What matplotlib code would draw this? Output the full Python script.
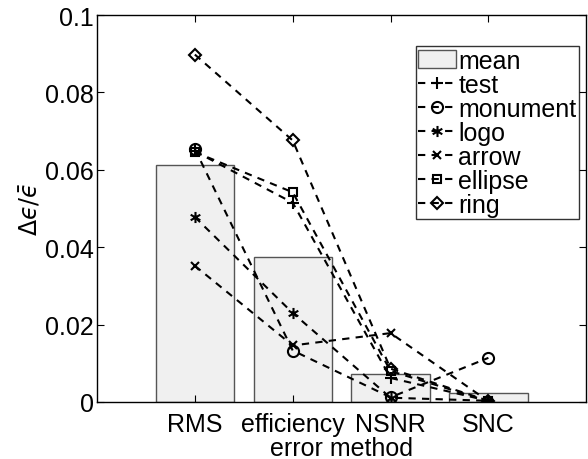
import matplotlib.pyplot as plt
import numpy as np
from matplotlib.path import Path

plt.rcParams['font.family'] = ['Liberation Sans', 'DejaVu Sans']
plt.rcParams['mathtext.fontset'] = 'dejavusans'

methods = ['RMS', 'efficiency', 'NSNR', 'SNC']
mean_vals = [0.0613, 0.0374, 0.0071, 0.0023]

series_names = ['test', 'monument', 'logo', 'arrow', 'ellipse', 'ring']
test = [0.0648, 0.0515, 0.0062, 0.0003]
monument = [0.0654, 0.0133, 0.0012, 0.0114]
logo = [0.0478, 0.0230, 0.0011, 0.0003]
arrow = [0.0352, 0.0146, 0.0178, 0.0002]
ellipse = [0.0646, 0.0542, 0.0080, 0.0002]
ring = [0.0898, 0.0676, 0.0086, 0.0003]
series_vals = [test, monument, logo, arrow, ellipse, ring]

# MATLAB style asterisk: three crossing strokes
ast_verts = []
ast_codes = []
for ang in [90, 30, -30]:
    a = np.deg2rad(ang)
    ast_verts += [(-np.cos(a), -np.sin(a)), (np.cos(a), np.sin(a))]
    ast_codes += [Path.MOVETO, Path.LINETO]
asterisk = Path(ast_verts, ast_codes)

markers = ['+', 'o', asterisk, 'x', 's', 'D']
msizes = [8, 8, 8, 6, 6, 6]

fig = plt.figure(figsize=(5.88, 4.6), dpi=100)
ax = fig.add_axes([0.165, 0.124, 0.832, 0.841])

x = np.arange(1, len(methods) + 1)
ax.bar(x, mean_vals, width=0.8, color='#f0f0f0', edgecolor='#555555',
       linewidth=1, label='mean', zorder=1)

for name, vals, m, ms in zip(series_names, series_vals, markers, msizes):
    ax.plot(x, vals, linestyle=(0, (3.5, 3)), color='black', linewidth=1.5,
            marker=m, markersize=ms, markerfacecolor='none',
            markeredgecolor='black', markeredgewidth=1.5, label=name, zorder=3)

ax.set_xlim(0, 5)
ax.set_ylim(0, 0.1)
ax.set_xticks(x)
ax.set_xticklabels(methods)
ax.set_yticks([0, 0.02, 0.04, 0.06, 0.08, 0.1])
ax.set_yticklabels(['0', '0.02', '0.04', '0.06', '0.08', '0.1'])
ax.tick_params(direction='in', top=True, right=True, labelsize=18,
               length=5, width=0.8, pad=2)
ax.tick_params(axis='x', pad=7)
ax.set_xlabel('error method', fontsize=18, labelpad=0)
ax.set_ylabel('$\\Delta\u03f5/\\bar{\u03f5}$', fontsize=17, labelpad=2)
for s in ax.spines.values():
    s.set_linewidth(1)

# mean first in the legend, like the reference
handles, labels = ax.get_legend_handles_labels()
order = [labels.index('mean')] + [labels.index(n) for n in series_names]
leg = ax.legend([handles[i] for i in order], [labels[i] for i in order],
                loc='upper right', bbox_to_anchor=(0.985, 0.92), fontsize=18,
                frameon=True, fancybox=False, edgecolor='black',
                handlelength=1.5, handletextpad=0.1, borderpad=0.1,
                labelspacing=0.0, borderaxespad=0)
leg.get_frame().set_linewidth(1)

fig.savefig('out.png', dpi=100)
